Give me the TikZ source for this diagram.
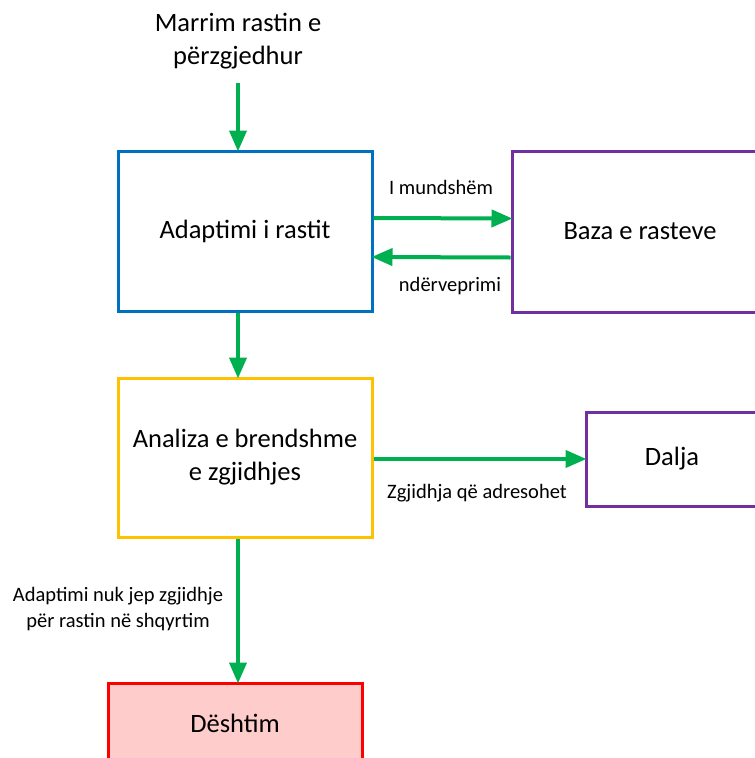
\documentclass[tikz,border=0pt]{standalone}
\usepackage{fontspec}
\setmainfont{Carlito}
\usetikzlibrary{arrows.meta}
\definecolor{flowgreen}{HTML}{00B050}
\definecolor{boxblue}{HTML}{0070C0}
\definecolor{boxpurple}{HTML}{7030A0}
\definecolor{boxyellow}{HTML}{FFC000}
\definecolor{failred}{HTML}{FF0000}
\definecolor{failfill}{HTML}{FFCCCC}
\tikzset{
  stage/.style={draw, line width=3pt, fill=white, inner sep=0pt, align=center,
    font=\fontsize{26.5}{33}\selectfont},
  flow/.style={draw=flowgreen, line width=4pt,
    -{Triangle[length=21pt,width=17pt]}, shorten >=-2pt},
  tag/.style={font=\fontsize{20.5}{26}\selectfont, align=center, inner sep=0pt},
}
\begin{document}
\begin{tikzpicture}[x=1pt,y=-1pt]
\useasboundingbox (0,0) rectangle (755,758);
\clip (0,0) rectangle (755,758);
% boxes
\node[stage, draw=boxblue, minimum width=254pt, minimum height=160pt]
  (adapt) at (245,231) {Adaptimi i rastit};
\node[stage, draw=boxpurple, minimum width=256pt, minimum height=161pt]
  (base) at (640,231.5) {Baza e rasteve};
\node[stage, draw=boxyellow, minimum width=254pt, minimum height=159pt]
  (anal) at (245,457.5) {Analiza e brendshme\\e zgjidhjes};
\node[stage, draw=boxpurple, minimum width=172pt, minimum height=94pt]
  (out) at (672,459) {Dalja};
\node[stage, draw=failred, fill=failfill, minimum width=254pt, minimum height=80pt]
  (fail) at (235,723) {Dështim};
% input text
\node[stage, draw=none, fill=none] (input) at (238,41) {Marrim rastin e\\përzgjedhur};
% connectors
\coordinate (inA) at (238,83);
\draw[flow] (inA) -- (adapt.north -| inA);
\draw[flow] ([yshift=13pt]adapt.east) -- ([yshift=13pt]base.west);
\draw[flow] ([yshift=-26pt]base.west) -- ([yshift=-26pt]adapt.east);
\draw[flow] (adapt.south -| inA) -- (anal.north -| inA);
\draw[flow] (anal.east |- out.west) -- (out.west);
\draw[flow] (anal.south -| inA) -- (fail.north -| inA);
% labels
\node[tag] (l1) at (441,187) {I mundshëm};
\node[tag] (l2) at (450,286) {ndërveprimi};
\node[tag] (l3) at (477,493) {Zgjidhja që adresohet};
\node[tag] (l4) at (118,609) {Adaptimi nuk jep zgjidhje\\për rastin në shqyrtim};
\end{tikzpicture}
\end{document}
